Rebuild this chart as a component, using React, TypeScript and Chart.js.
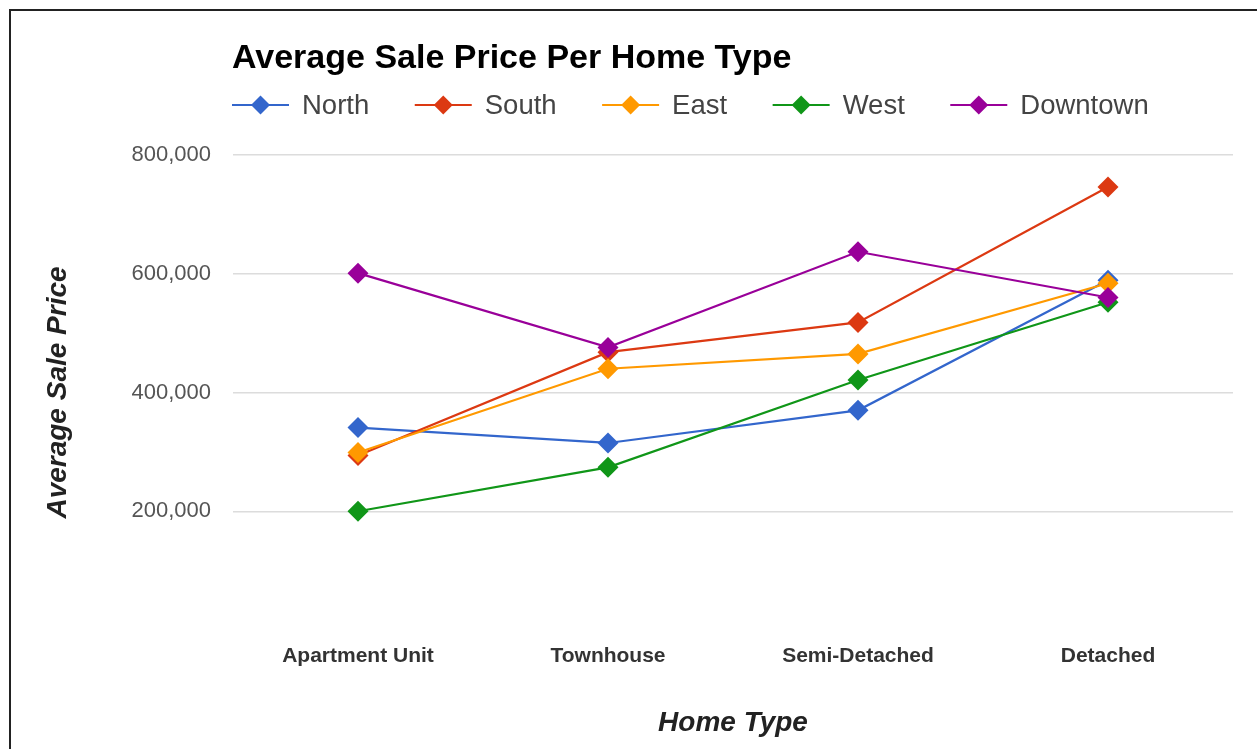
import React, { useEffect, useRef } from "react";
import { Chart, registerables } from "chart.js";

Chart.register(...registerables);

const chartTitle = "Average Sale Price Per Home Type";
const xAxisTitle = "Home Type";
const yAxisTitle = "Average Sale Price";
const categories = ["Apartment Unit", "Townhouse", "Semi-Detached", "Detached"];
const seriesNames = ["North", "South", "East", "West", "Downtown"];
const seriesColors = ["#3366cc", "#dc3912", "#ff9900", "#109618", "#990099"];
const north = [341000, 315000, 370000, 589000];
const south = [294000, 468000, 518000, 746000];
const east = [299000, 440000, 465000, 584000];
const west = [200000, 274000, 421000, 552000];
const downtown = [601000, 476000, 637000, 560000];
const seriesValues = [north, south, east, west, downtown];
const yMin = 0;
const yMax = 800000;
const yStep = 200000;

const FONT = '"Liberation Sans", Arial, sans-serif';

const headerPlugin = {
  id: "header",
  afterDraw(chart: any) {
    const ctx = chart.ctx as CanvasRenderingContext2D;
    const left = chart.chartArea.left - 1;
    ctx.save();
    ctx.fillStyle = "#000";
    ctx.textAlign = "left";
    ctx.textBaseline = "alphabetic";
    ctx.font = `bold 34px ${FONT}`;
    ctx.fillText(chartTitle, left, 68);

    ctx.font = `27.5px ${FONT}`;
    ctx.textBaseline = "middle";
    const y = 105;
    let x = left;
    const lineLen = 57;
    chart.data.datasets.forEach((ds: any) => {
      ctx.strokeStyle = ds.borderColor;
      ctx.fillStyle = ds.borderColor;
      ctx.lineWidth = 2;
      ctx.beginPath();
      ctx.moveTo(x, y);
      ctx.lineTo(x + lineLen, y);
      ctx.stroke();
      const cx = x + lineLen / 2;
      const r = 9.5;
      ctx.beginPath();
      ctx.moveTo(cx - r, y);
      ctx.lineTo(cx, y - r);
      ctx.lineTo(cx + r, y);
      ctx.lineTo(cx, y + r);
      ctx.closePath();
      ctx.fill();
      ctx.fillStyle = "#444";
      const tx = x + lineLen + 13;
      ctx.fillText(ds.label, tx, y + 1);
      x = tx + ctx.measureText(ds.label).width + 45.5;
    });
    ctx.restore();
  },
};

export default function App() {
  const canvasRef = useRef<HTMLCanvasElement | null>(null);

  useEffect(() => {
    if (!canvasRef.current) return;
    Chart.defaults.font.family = FONT;
    const chart = new Chart(canvasRef.current, {
      type: "line",
      data: {
        labels: categories,
        datasets: seriesNames.map((name, i) => ({
          label: name,
          data: seriesValues[i],
          borderColor: seriesColors[i],
          backgroundColor: seriesColors[i],
          borderWidth: 2.2,
          pointStyle: "rectRot",
          pointRadius: 10.5,
          pointHoverRadius: 10.5,
          pointBorderWidth: 0,
          tension: 0,
          order: seriesNames.length - i,
        })),
      },
      options: {
        animation: false,
        responsive: true,
        maintainAspectRatio: false,
        layout: { padding: { top: 155, right: 24, left: 0, bottom: 0 } },
        plugins: {
          legend: { display: false },
          title: { display: false },
          tooltip: { enabled: false },
        },
        scales: {
          x: {
            offset: true,
            grid: { display: false, drawTicks: false },
            border: { display: false },
            ticks: {
              color: "#333",
              padding: 14,
              font: { size: 21, weight: "bold" },
              maxRotation: 0,
            },
            title: {
              display: true,
              text: xAxisTitle,
              color: "#222",
              font: { size: 28, weight: "bold", style: "italic" },
              padding: { top: 0, bottom: 9 },
            },
            afterFit: (s: any) => {
              s.height = 119;
            },
          },
          y: {
            min: yMin,
            max: yMax,
            grid: {
              drawTicks: false,
              lineWidth: 1.5,
              color: (c: any) => (c.tick && c.tick.value === 0 ? "rgba(0,0,0,0)" : "#dcdcdc"),
            },
            border: { display: false },
            ticks: {
              stepSize: yStep,
              color: "#555",
              padding: 22,
              font: { size: 22 },
              callback: (v: any) => (v === 0 ? "" : Number(v).toLocaleString("en-US")),
            },
            title: {
              display: true,
              text: yAxisTitle,
              color: "#222",
              font: { size: 28, weight: "bold", style: "italic" },
              padding: { top: 41, bottom: 0 },
            },
            afterFit: (s: any) => {
              s.width = 233;
            },
          },
        },
      },
      plugins: [headerPlugin],
    });
    return () => chart.destroy();
  }, []);

  return (
    <>
      <div
        style={{
          position: "fixed",
          left: 9,
          top: 9,
          width: 1248,
          height: 740,
          borderTop: "2px solid #222",
          borderLeft: "2px solid #222",
          boxSizing: "border-box",
        }}
      />
      <div style={{ position: "fixed", left: 0, top: 0, width: 1257, height: 749 }}>
        <canvas ref={canvasRef} />
      </div>
    </>
  );
}
